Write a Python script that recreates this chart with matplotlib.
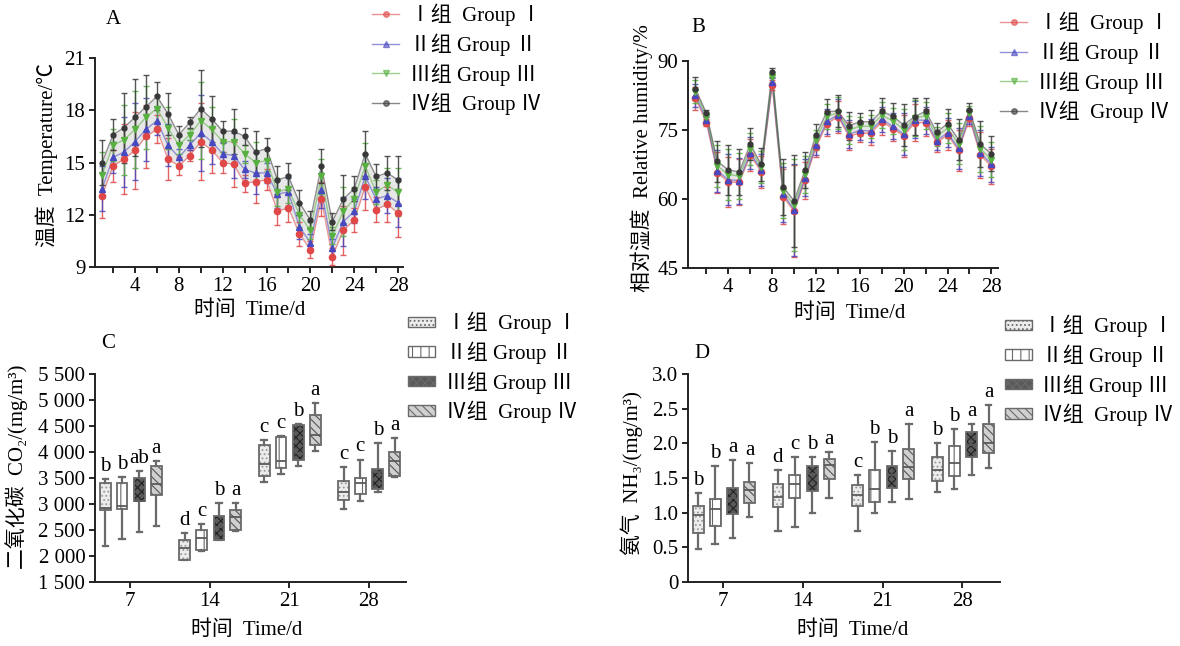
import numpy as np
import matplotlib
matplotlib.use('Agg')
import matplotlib.pyplot as plt
from matplotlib.patches import Patch
from matplotlib.lines import Line2D

plt.rcParams['font.family'] = ['Liberation Serif', 'Noto Sans CJK SC', 'DejaVu Sans']
plt.rcParams['font.size'] = 15
plt.rcParams['hatch.linewidth'] = 0.8

# ---------------- data ----------------
days = np.arange(1, 29)
group_labels = ['Ⅰ组  Group Ⅰ', 'Ⅱ组 Group Ⅱ', 'Ⅲ组 Group Ⅲ', 'Ⅳ组  Group Ⅳ']

# A: temperature (°C)
tempI = [13.1, 14.8, 15.2, 15.7, 16.5, 16.9, 15.2, 14.8, 15.4, 16.2, 15.7, 15.0, 14.9, 13.8,
         13.9, 14.0, 12.2, 12.4, 10.9, 10.0, 12.9, 9.6, 11.1, 11.7, 13.6, 12.3, 12.6, 12.1]
tempII = [13.5, 15.3, 15.6, 16.2, 16.9, 17.4, 16.0, 15.3, 16.0, 16.7, 16.2, 15.5, 15.4, 14.6,
          14.4, 14.4, 13.2, 13.3, 11.3, 10.4, 13.4, 10.1, 11.6, 12.2, 14.2, 12.9, 13.1, 12.7]
tempIII = [14.3, 16.0, 16.3, 16.9, 17.6, 18.1, 17.0, 16.0, 16.6, 17.4, 16.9, 16.2, 16.2, 15.5,
           15.0, 15.1, 13.3, 13.5, 12.0, 11.1, 14.2, 10.8, 12.2, 12.9, 14.8, 13.3, 13.7, 13.3]
tempIV = [15.0, 16.6, 17.0, 17.6, 18.2, 18.8, 17.8, 16.6, 17.3, 18.1, 17.5, 16.8, 16.8, 16.5,
          15.6, 15.8, 14.0, 14.2, 12.7, 11.7, 14.8, 11.6, 12.9, 13.5, 15.5, 14.2, 14.4, 14.0]
tempErr = [1.3, 0.9, 2.0, 2.2, 1.8, 0.8, 1.2, 0.5, 0.3, 2.2, 1.3, 0.6, 1.3, 0.5,
           1.2, 0.6, 0.8, 0.8, 0.7, 0.5, 1.0, 0.5, 1.4, 0.7, 1.3, 0.7, 1.0, 1.4]

# B: relative humidity (%)
rhI = [81.9, 76.6, 65.7, 63.7, 63.6, 69.5, 65.9, 84.8, 60.5, 57.3, 64.1, 71.3, 76.4, 77.9,
       73.7, 74.3, 74.3, 76.8, 75.3, 73.7, 76.6, 76.6, 72.3, 73.9, 70.6, 77.5, 69.5, 67.1]
rhII = [82.5, 77.2, 66.1, 64.2, 64.0, 70.0, 66.3, 85.4, 61.0, 57.7, 64.6, 71.8, 76.9, 78.3,
        74.1, 74.9, 74.8, 77.3, 75.8, 74.1, 77.2, 77.1, 72.7, 74.4, 71.0, 78.0, 70.0, 67.6]
rhIII = [83.3, 77.9, 67.2, 65.3, 65.0, 70.9, 66.9, 86.5, 61.8, 58.6, 65.4, 72.9, 78.0, 78.7,
         75.0, 75.8, 75.8, 78.2, 77.0, 75.1, 77.6, 78.1, 73.6, 75.4, 72.0, 78.7, 70.9, 68.5]
rhIV = [84.0, 78.6, 68.2, 66.3, 65.9, 71.9, 67.5, 87.5, 62.6, 59.6, 66.3, 74.0, 79.0, 79.1,
        75.9, 76.8, 76.8, 79.1, 78.0, 76.1, 77.9, 79.1, 74.5, 76.4, 72.9, 79.3, 71.9, 69.8]
rhErr = [2.5, 0.8, 4.5, 5.5, 5.0, 3.5, 3.5, 1.0, 6.0, 10.0, 4.0, 2.2, 2.7, 3.5,
         3.0, 2.0, 2.5, 2.8, 2.8, 4.5, 4.0, 2.9, 2.0, 3.2, 4.5, 1.6, 5.0, 3.8]

# C / D: box plots at day 7, 14, 21, 28 for groups I-IV
box_days = [7, 14, 21, 28]
# CO2 (mg/m3): rows = day, cols = group
co2_lo = [[2190, 2330, 2455, 2570], [1915, 2090, 2300, 2490], [3420, 3580, 3725, 4010], [2910, 3065, 3225, 3520]]
co2_q1 = [[2880, 2910, 3050, 3180], [1930, 2110, 2315, 2505], [3530, 3690, 3850, 4140], [3085, 3200, 3290, 3545]]
co2_med = [[2920, 2970, 3065, 3380], [2155, 2345, 2560, 2750], [3775, 3820, 3980, 4330], [3230, 3405, 3610, 3820]]
co2_q3 = [[3400, 3405, 3495, 3725], [2300, 2495, 2765, 2890], [4140, 4290, 4525, 4720], [3435, 3500, 3680, 4000]]
co2_hi = [[3480, 3515, 3640, 3820], [2445, 2620, 3020, 3020], [4235, 4300, 4540, 4940], [3705, 3855, 4175, 4270]]
co2_letters = [['b', 'b', 'ab', 'a'], ['d', 'c', 'b', 'a'], ['c', 'c', 'b', 'a'], ['c', 'c', 'b', 'a']]

# NH3 (mg/m3)
nh3_lo = [[0.47, 0.55, 0.64, 0.94], [0.74, 0.80, 1.00, 1.21], [0.74, 0.99, 1.16, 1.19], [1.30, 1.34, 1.54, 1.64]]
nh3_q1 = [[0.71, 0.81, 0.98, 1.14], [1.08, 1.21, 1.31, 1.49], [1.09, 1.16, 1.36, 1.48], [1.45, 1.53, 1.81, 1.86]]
nh3_med = [[0.97, 1.06, 1.21, 1.33], [1.23, 1.42, 1.56, 1.69], [1.26, 1.34, 1.54, 1.66], [1.62, 1.71, 1.98, 2.01]]
nh3_q3 = [[1.10, 1.19, 1.36, 1.44], [1.41, 1.55, 1.67, 1.78], [1.40, 1.62, 1.67, 1.92], [1.80, 1.96, 2.16, 2.28]]
nh3_hi = [[1.29, 1.67, 1.76, 1.72], [1.62, 1.81, 1.80, 1.88], [1.55, 2.02, 1.89, 2.28], [2.01, 2.21, 2.28, 2.55]]
nh3_letters = [['b', 'b', 'a', 'a'], ['d', 'c', 'b', 'a'], ['c', 'b', 'b', 'a'], ['b', 'b', 'a', 'a']]

# ---------------- styles ----------------
line_cols = ['#e04848', '#4848c0', '#58b040', '#383838']
markers = ['o', '^', 'v', 'o']
box_faces = ['#ececec', '#ffffff', '#5a5a5a', '#d0d0d0']
box_hatch = ['....', '||', 'xxxx', '\\\\\\\\']
hatch_cols = ['#9a9a9a', '#666666', '#222222', '#555555']
offsets = [-2.2, -0.72, 0.82, 2.3]

fig = plt.figure(figsize=(11.8, 6.46), dpi=100)
W, H = 1180.0, 646.0


def add_ax(l, t, r, b):
    return fig.add_axes([l / W, 1 - b / H, (r - l) / W, (b - t) / H])


def style_ax(ax):
    for s in ['top', 'right']:
        ax.spines[s].set_visible(False)
    for s in ['left', 'bottom']:
        ax.spines[s].set_linewidth(1.4)
        ax.spines[s].set_color('#222222')
    ax.tick_params(direction='out', length=4, width=1.2, labelsize=15, pad=3)


def line_panel(ax, series, err, ylim, yticks):
    ax.fill_between(days, series[0], series[3], color='#bdbdbd', alpha=0.35, lw=0)
    for k, y in enumerate(series):
        ax.plot(days, y, color=line_cols[k], lw=1.0, alpha=0.55, zorder=2)
        ax.errorbar(days, y, yerr=err, fmt='none', ecolor=line_cols[k], elinewidth=1.0,
                    capsize=2.5, capthick=1.0, alpha=0.85, zorder=3)
        ax.plot(days, y, ls='none', marker=markers[k], ms=4.5 if k < 3 else 3.5,
                color=line_cols[k], zorder=4)
    ax.set_ylim(*ylim)
    ax.set_yticks(yticks)
    ax.set_xticks(np.arange(2, 29, 2))
    ax.set_xticklabels([str(d) if d % 4 == 0 else '' for d in range(2, 29, 2)])
    style_ax(ax)


def box_panel(ax, lo, q1, med, q3, hi, letters, pad):
    for j, d in enumerate(box_days):
        for k in range(4):
            st = [dict(whislo=lo[j][k], q1=q1[j][k], med=med[j][k], q3=q3[j][k], whishi=hi[j][k])]
            res = ax.bxp(st, positions=[d + offsets[k]], widths=0.95, showfliers=False,
                         patch_artist=True, manage_ticks=False,
                         boxprops=dict(facecolor=box_faces[k], edgecolor='#6a6a6a', lw=1.3),
                         medianprops=dict(color='#5a5a5a', lw=1.3),
                         whiskerprops=dict(color='#6a6a6a', lw=1.6),
                         capprops=dict(color='#6a6a6a', lw=1.6))
            for b in res['boxes']:
                b.set_hatch(box_hatch[k])
                b._hatch_color = matplotlib.colors.to_rgba(hatch_cols[k])
            ax.text(d + offsets[k], hi[j][k] + pad, letters[j][k], ha='center', va='bottom', fontsize=15)
    ax.set_xlim(3.9, 31.3)
    ax.set_xticks(box_days)
    style_ax(ax)


# ---------------- panel A ----------------
axA = add_ax(95, 58, 403, 267)
line_panel(axA, [tempI, tempII, tempIII, tempIV], tempErr, (9, 21), [9, 12, 15, 18, 21])
axA.set_xlim(0.35, 28.45)
fig.text(113 / W, 1 - 20 / H, 'A', fontsize=15, ha='center', va='center')
fig.text(47 / W, 1 - 155 / H, '温度  Temperature/℃', rotation=90, ha='center', va='center', fontsize=15)
fig.text(250 / W, 1 - 310 / H, '时间  Time/d', ha='center', va='center', fontsize=15)

# ---------------- panel B ----------------
axB = add_ax(688, 61, 998, 268)
line_panel(axB, [rhI, rhII, rhIII, rhIV], rhErr, (45, 90), [45, 60, 75, 90])
axB.set_xlim(0.32, 28.6)
fig.text(698 / W, 1 - 27 / H, 'B', fontsize=15, ha='center', va='center')
fig.text(642 / W, 1 - 158 / H, '相对湿度  Relative humidity/%', rotation=90, ha='center', va='center', fontsize=15)
fig.text(850 / W, 1 - 313 / H, '时间  Time/d', ha='center', va='center', fontsize=15)

# ---------------- panel C ----------------
axC = add_ax(95, 374, 406, 582)
box_panel(axC, co2_lo, co2_q1, co2_med, co2_q3, co2_hi, co2_letters, 60)
axC.set_ylim(1500, 5500)
axC.set_yticks(np.arange(1500, 5501, 500))
axC.set_yticklabels(['{:,}'.format(v).replace(',', ' ') for v in range(1500, 5501, 500)])
fig.text(108 / W, 1 - 343 / H, 'C', fontsize=15, ha='center', va='center')
fig.text(17 / W, 1 - 467 / H, '二氧化碳  CO₂/(mg/m³)', rotation=90, ha='center', va='center', fontsize=15)
fig.text(247 / W, 1 - 630 / H, '时间  Time/d', ha='center', va='center', fontsize=15)

# ---------------- panel D ----------------
axD = add_ax(688, 374, 1000, 582)
box_panel(axD, nh3_lo, nh3_q1, nh3_med, nh3_q3, nh3_hi, nh3_letters, 0.04)
axD.set_ylim(0, 3.0)
axD.set_yticks(np.arange(0, 3.01, 0.5))
axD.set_yticklabels(['0'] + ['{:.1f}'.format(v) for v in np.arange(0.5, 3.01, 0.5)])
fig.text(702 / W, 1 - 353 / H, 'D', fontsize=15, ha='center', va='center')
fig.text(632 / W, 1 - 473 / H, '氨气  NH₃/(mg/m³)', rotation=90, ha='center', va='center', fontsize=15)
fig.text(853 / W, 1 - 630 / H, '时间  Time/d', ha='center', va='center', fontsize=15)

# ---------------- legends ----------------
line_handles = [Line2D([0], [0], color=line_cols[k], lw=1.0, alpha=0.6, marker=markers[k],
                       ms=4, markerfacecolor=line_cols[k], markeredgecolor=line_cols[k]) for k in range(4)]
box_handles = [Patch(facecolor=box_faces[k], edgecolor='#6a6a6a', hatch=box_hatch[k], lw=1.0) for k in range(4)]

leg_kw = dict(frameon=False, fontsize=15, labelspacing=0.34, handletextpad=0.5, borderpad=0, borderaxespad=0)
fig.legend(line_handles, group_labels, loc='upper left', bbox_to_anchor=(372 / W, 1 - 4 / H),
           handlelength=1.3, **leg_kw)
fig.legend(line_handles, group_labels, loc='upper left', bbox_to_anchor=(1000 / W, 1 - 12 / H),
           handlelength=1.3, **leg_kw)
fig.legend(box_handles, group_labels, loc='upper left', bbox_to_anchor=(408 / W, 1 - 312 / H),
           handlelength=1.3, handleheight=0.4, **leg_kw)
fig.legend(box_handles, group_labels, loc='upper left', bbox_to_anchor=(1005 / W, 1 - 315 / H),
           handlelength=1.3, handleheight=0.4, **leg_kw)

fig.savefig('out.png', dpi=100)
